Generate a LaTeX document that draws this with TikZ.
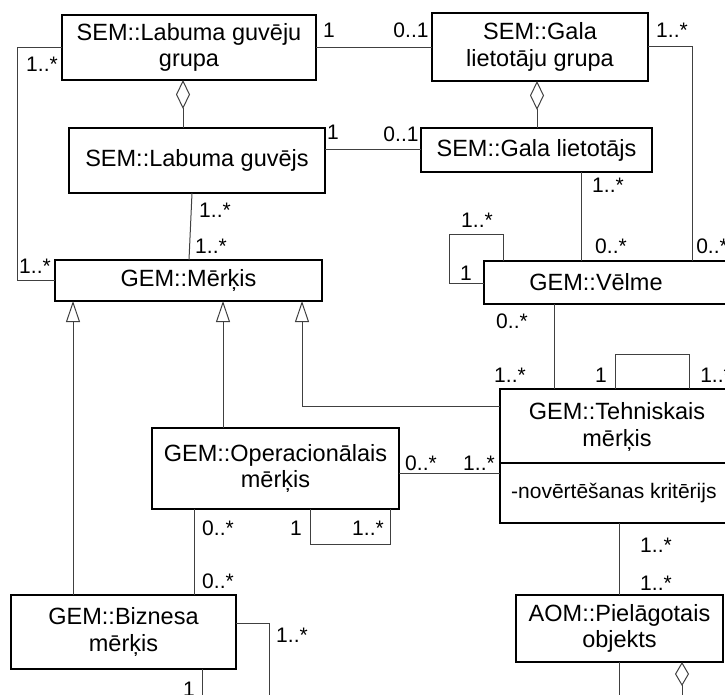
\documentclass[tikz,border=0pt]{standalone}
\usepackage{fontspec}
\setmainfont{Liberation Sans}
\usetikzlibrary{arrows.meta}
\begin{document}
\begin{tikzpicture}[x=1pt,y=-1pt,
  box/.style={draw,line width=1.5pt,inner sep=0pt,outer sep=0pt,align=center,font=\fontsize{23.5}{26.5}\selectfont},
  txt/.style={inner sep=0pt,align=center,font=\fontsize{23.5}{26.5}\selectfont},
  conn/.style={line width=1pt,draw=black!75},
  lab/.style={anchor=base,inner sep=0pt,font=\fontsize{21}{24}\selectfont},
  agg/.style={-{Diamond[open,length=29pt,width=14pt]}},
  gen/.style={-{Triangle[open,length=21pt,width=14pt]}}]
\useasboundingbox (0,0) rectangle (725,695);
\clip (0,0) rectangle (725,695);

% boxes
\node[box,minimum width=254pt,minimum height=65pt] (lgg) at (189,47.5) {SEM::Labuma guvēju\\grupa};
\node[box,minimum width=216pt,minimum height=68pt] (glg) at (540,47) {SEM::Gala\\lietotāju grupa};
\node[box,minimum width=256pt,minimum height=65pt] (lg) at (197,160.5) {SEM::Labuma guvējs};
\node[box,minimum width=231pt,minimum height=44pt] (gl) at (536.5,150) {SEM::Gala lietotājs};
\node[box,minimum width=267pt,minimum height=41pt] (mk) at (188.5,280.5) {GEM::Mērķis};
\node[box,minimum width=256pt,minimum height=43pt] (vel) at (612,282.5) {};
\node[txt] (velt) at (596,282.5) {GEM::Vēlme};
\node[box,minimum width=235pt,minimum height=134pt] (teh) at (617.5,456) {};
\node[txt] (tehn) at (617,427) {GEM::Tehniskais\\mērķis};
\node[inner sep=0pt,anchor=west,font=\fontsize{21}{24}\selectfont] (teha) at (511,493) {-novērtēšanas kritērijs};
\draw[line width=1.5pt] (teh.west |- 0,463) -- (teh.east |- 0,463);
\node[box,minimum width=247pt,minimum height=81pt] (op) at (275.5,468.5) {GEM::Operacionālais\\mērķis};
\node[box,minimum width=225pt,minimum height=74pt] (bz) at (123.5,632) {GEM::Biznesa\\mērķis};
\node[box,minimum width=207pt,minimum height=67pt] (aom) at (619.5,628.5) {AOM::Pielāgotais\\objekts};

% free ends
\coordinate (e1) at (269,700);
\coordinate (e2) at (202,700);
\coordinate (e3) at (619,700);
\coordinate (e4) at (682,700);

% connectors
\draw[conn] (lgg.west) -- ++(-45,0) |- (mk.west);
\draw[conn] (lgg.east) -- (lgg.east -| glg.west);
\draw[conn] (gl.west -| lg.east) -- (gl.west);
\draw[conn,agg] (lg.north -| 183,0) -- (lgg.south -| 183,0);
\draw[conn] (lg.south -| 192,0) -- (mk.north -| 189,0);
\draw[conn,agg] (gl.north -| 537,0) -- (glg.south -| 537,0);
\draw[conn] (gl.south -| 581,0) -- (vel.north -| 581,0);
\draw[conn] (glg.east) -| (vel.north -| 692,0);
\draw[conn] (vel.north -| 503,0) -- (503,234) -- (449,234) -- (449,283) -- (vel.west |- 0,283);
\draw[conn] (vel.south -| 554,0) -- (teh.north -| 554,0);
\draw[conn] (teh.north -| 615,0) -- (615,354) -- (689,354) -- (teh.north -| 689,0);
\draw[conn,gen] (bz.north -| 73,0) -- (mk.south -| 73,0);
\draw[conn,gen] (op.north -| 223,0) -- (mk.south -| 223,0);
\draw[conn,gen] (teh.west |- 0,406) -| (mk.south -| 302,0);
\draw[conn] (op.east |- 0,473) -- (teh.west |- 0,473);
\draw[conn] (op.south -| 310,0) -- (310,544) -- (390,544) -- (op.south -| 390,0);
\draw[conn] (op.south -| 194,0) -- (bz.north -| 194,0);
\draw[conn] (bz.east |- 0,623) -| (e1);
\draw[conn] (bz.south -| 202,0) -- (e2);
\draw[conn] (teh.south -| 619,0) -- (aom.north -| 619,0);
\draw[conn] (aom.south -| 619,0) -- (e3);
\draw[conn,-{Diamond[open,length=24pt,width=14pt]}] (e4) -- (aom.south -| 682,0);

% multiplicities
\node[lab] (m1) at (42,72) {1..*};
\node[lab] (m2) at (329,38) {1};
\node[lab] (m3) at (411,38) {0..1};
\node[lab] (m4) at (672,38) {1..*};
\node[lab] (m5) at (333,140) {1};
\node[lab] (m6) at (401,142) {0..1};
\node[lab] (m7) at (215,218) {1..*};
\node[lab] (m8) at (211,253) {1..*};
\node[lab] (m9) at (35,273) {1..*};
\node[lab] (m10) at (608,193) {1..*};
\node[lab] (m11) at (477,227) {1..*};
\node[lab] (m12) at (611,253) {0..*};
\node[lab] (m13) at (466,280) {1};
\node[lab] (m14) at (712,253) {0..*};
\node[lab] (m15) at (512,328) {0..*};
\node[lab] (m16) at (510,382) {1..*};
\node[lab] (m17) at (601,382) {1};
\node[lab] (m18) at (716,382) {1..*};
\node[lab] (m19) at (421,470) {0..*};
\node[lab] (m20) at (479,470) {1..*};
\node[lab] (m21) at (656,552) {1..*};
\node[lab] (m22) at (656,590) {1..*};
\node[lab] (m23) at (218,535) {0..*};
\node[lab] (m24) at (296,535) {1};
\node[lab] (m25) at (368,535) {1..*};
\node[lab] (m26) at (218,588) {0..*};
\node[lab] (m27) at (292,642) {1..*};
\node[lab] (m28) at (189,696) {1};
\end{tikzpicture}
\end{document}
